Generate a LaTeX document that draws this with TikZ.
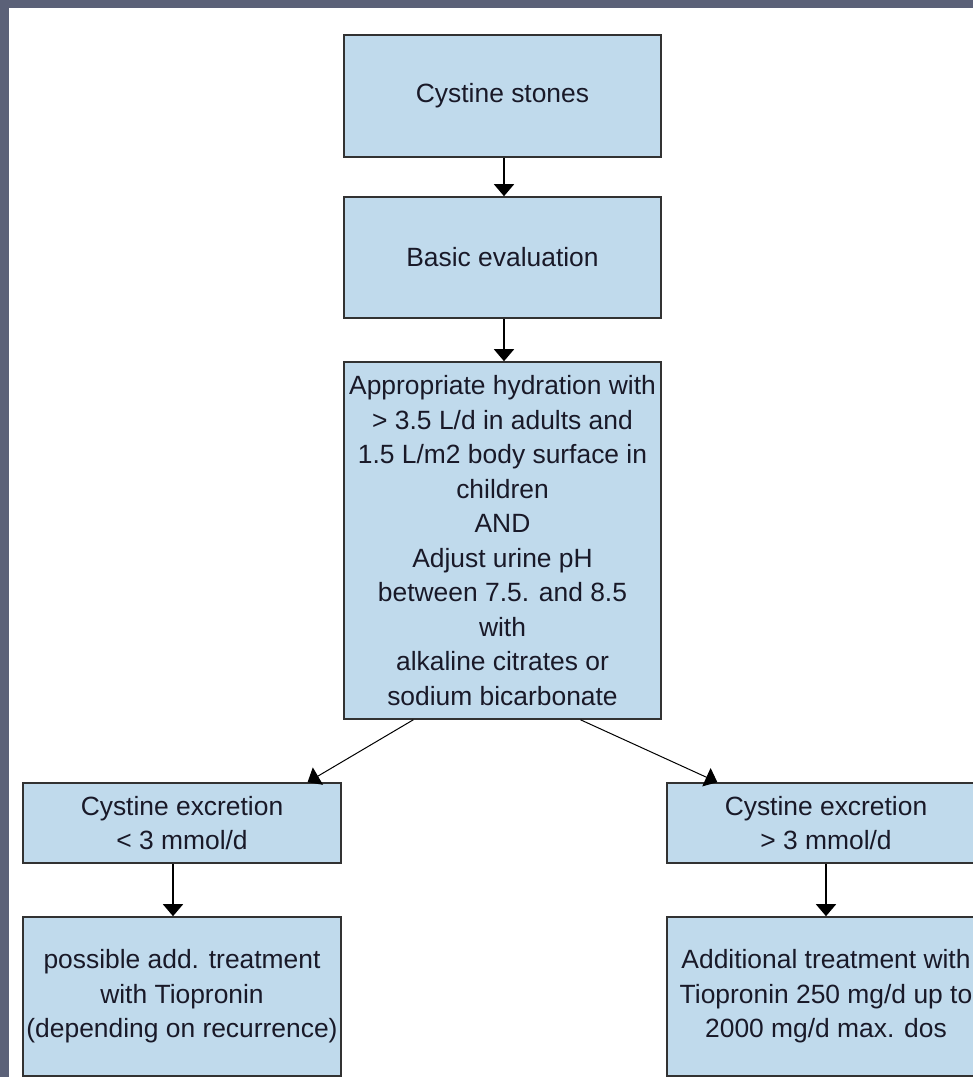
\documentclass[tikz,border=0pt]{standalone}
\usepackage{fontspec}
\setmainfont{Liberation Sans}
\usetikzlibrary{arrows.meta,calc}
\definecolor{framegray}{RGB}{91,97,120}
\definecolor{boxblue}{RGB}{192,218,236}
\definecolor{edgegray}{RGB}{50,50,50}
\definecolor{inkdark}{RGB}{25,25,40}
\tikzset{
  flowbox/.style={draw=edgegray, line width=1.6pt, fill=boxblue, inner sep=0pt,
    align=center, text=inkdark, font=\fontsize{26.4}{34.5}\selectfont},
  flowarrow/.style={draw=black, line width=1.5pt,
    -{Triangle[width=20pt,length=12pt]}}
}
\begin{document}
\begin{tikzpicture}[x=1pt,y=-1pt]
\useasboundingbox (0,0) rectangle (973,1077);
\clip (0,0) rectangle (973,1077);
% dark frame with white sheet
\fill[framegray] (0,0) rectangle (973,1077);
\fill[white] (9,8) rectangle (980,1090);

% central column
\node[flowbox, minimum width=317pt, minimum height=122pt] (stones) at (502.5,96) {Cystine stones};
\node[flowbox, minimum width=317pt, minimum height=121pt] (basic) at (502.5,257.5) {Basic evaluation};
\node[flowbox, minimum width=317pt, minimum height=357pt] (hydr) at (502.5,540.5)
  {Appropriate hydration with\\ > 3.5 L/d in adults and\\ 1.5 L/m2 body surface in\\ children\\ AND\\ Adjust urine pH\\ between 7.5. and 8.5\\ with\\ alkaline citrates or\\ sodium bicarbonate};

% left branch
\node[flowbox, minimum width=318pt, minimum height=80pt] (low) at (182,823) {Cystine excretion\\ < 3 mmol/d};
\node[flowbox, minimum width=318pt, minimum height=159pt] (lowtx) at (182,996.5)
  {possible add. treatment\\ with Tiopronin\\ (depending on recurrence)};

% right branch
\node[flowbox, minimum width=318pt, minimum height=80pt] (high) at (826,823) {Cystine excretion\\ > 3 mmol/d};
\node[flowbox, minimum width=318pt, minimum height=159pt] (hightx) at (826,996.5)
  {Additional treatment with\\ Tiopronin 250 mg/d up to\\ 2000 mg/d max. dos};

% connectors
\draw[flowarrow] ([xshift=1.5pt]stones.south) -- ([xshift=1.5pt]basic.north);
\draw[flowarrow] ([xshift=1.5pt]basic.south) -- ([xshift=1.5pt]hydr.north);
\draw[flowarrow, line width=1pt] ($(hydr.south west)!0.22!(hydr.south east)$) -- ($(low.north west)!0.893!(low.north east)$);
\draw[flowarrow, line width=1pt] ($(hydr.south west)!0.745!(hydr.south east)$) -- ($(high.north west)!0.16!(high.north east)$);
\draw[flowarrow] ([xshift=-9pt]low.south) -- ([xshift=-9pt]lowtx.north);
\draw[flowarrow] (high.south) -- (hightx.north);
\end{tikzpicture}
\end{document}
